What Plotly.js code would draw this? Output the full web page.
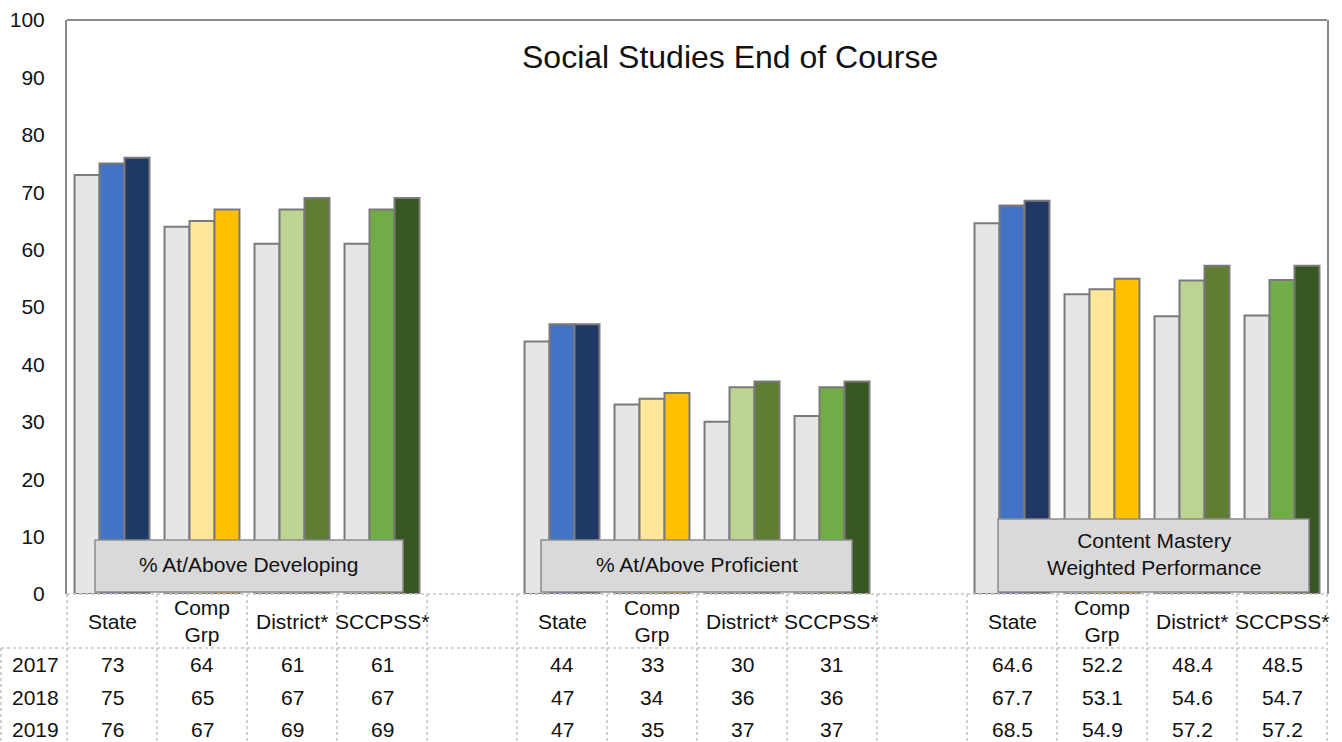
<!DOCTYPE html>
<html>
<head>
<meta charset="utf-8">
<script src="https://cdn.plot.ly/plotly-3.0.1.min.js"></script>
<style>
  html, body { margin: 0; padding: 0; background: #fff; }
  #chart { width: 1342px; height: 742px; }
</style>
</head>
<body>
<div id="chart"></div>
<script>
// ---------- data ----------
const chartTitle = "Social Studies End of Course";
const groupLabels = ["% At/Above Developing", "% At/Above Proficient", "Content Mastery<br>Weighted Performance"];
const entities = ["State", "Comp Grp", "District*", "SCCPSS*"];
const headerLabels = ["State", "Comp<br>Grp", "District*", "SCCPSS*"];
const years = ["2017", "2018", "2019"];
const values2017 = [73, 64, 61, 61, 44, 33, 30, 31, 64.6, 52.2, 48.4, 48.5];
const values2018 = [75, 65, 67, 67, 47, 34, 36, 36, 67.7, 53.1, 54.6, 54.7];
const values2019 = [76, 67, 69, 69, 47, 35, 37, 37, 68.5, 54.9, 57.2, 57.2];
const yTicks = [0, 10, 20, 30, 40, 50, 60, 70, 80, 90, 100];

// ---------- styles ----------
const FONT = "Liberation Sans, Arial, Helvetica, sans-serif";
const TXT = "#111111";
const colors2017 = ["#e7e6e6", "#e7e6e6", "#e7e6e6", "#e7e6e6"];
const colors2018 = ["#4472c4", "#ffe699", "#bcd392", "#70ad47"];
const colors2019 = ["#203864", "#ffc000", "#5f7d33", "#385723"];
const yearColors = [colors2017, colors2018, colors2019];
const yearValues = [values2017, values2018, values2019];

const slotsPerGroup = entities.length + 1;           // blank slot between groups
const nSlots = groupLabels.length * slotsPerGroup - 1;
const xRange = [-0.5, nSlots - 0.5];
const toPaperX = x => (x - xRange[0]) / (xRange[1] - xRange[0]);

const W = 1342, H = 742;
const margin = {l: 67, r: 15, t: 20, b: 148};
const plotH = H - margin.t - margin.b;
const plotW = W - margin.l - margin.r;
const pyToPaper = py => (H - margin.b - py) / plotH;   // pixel row -> paper y
const pxToPaper = px => (px - margin.l) / plotW;

const xPos = [];
groupLabels.forEach((g, gi) => entities.forEach((e, ei) => xPos.push(gi * slotsPerGroup + ei)));

const traces = years.map((yr, yi) => ({
  type: "bar",
  name: yr,
  x: xPos,
  y: yearValues[yi],
  marker: {
    color: xPos.map((_, i) => yearColors[yi][i % entities.length]),
    line: {color: "#7a7a7a", width: 2}
  },
  hoverinfo: "x+y+name"
}));

const shapes = [];
const annotations = [];
const gridLine = {color: "#c4c4c4", width: 1.5, dash: "dot"};
const ann = (o) => Object.assign({showarrow: false, xanchor: "center", yanchor: "middle",
  xref: "paper", yref: "paper"}, o);

// title
annotations.push(ann({
  text: chartTitle, x: pxToPaper(730), y: pyToPaper(57),
  font: {family: FONT, size: 32, color: TXT}
}));

// top frame line
shapes.push({type: "line", xref: "paper", yref: "paper", x0: 0, x1: 1, y0: 1, y1: 1,
  line: {color: "#8a8a8a", width: 2}, layer: "above"});

// group label boxes
const boxPx = [[95, 403, 540], [541, 852, 540], [998, 1309, 519]];
groupLabels.forEach((g, gi) => {
  const [x0, x1, top] = boxPx[gi];
  const yTop = (H - margin.b - top) / plotH * 100;
  const yBot = 0.35;
  shapes.push({type: "rect", xref: "paper", yref: "y",
    x0: pxToPaper(x0), x1: pxToPaper(x1), y0: yBot, y1: yTop,
    fillcolor: "#d9d9d9", line: {color: "#8c8c8c", width: 1.5}, layer: "above"});
  annotations.push(ann({text: g, yref: "y",
    x: pxToPaper((x0 + x1) / 2), y: (yTop + yBot) / 2 + 0.2,
    font: {family: FONT, size: 21, color: TXT}}));
});

// ---------- data table ----------
const tableTop = pyToPaper(594);
const headerBottom = pyToPaper(648);
const tableBottom = pyToPaper(742);
const rowY = [664, 697, 729].map(pyToPaper);
const headerY = pyToPaper(621);

shapes.push({type: "line", xref: "paper", yref: "paper", x0: 0, x1: 1, y0: tableTop, y1: tableTop, line: gridLine});
shapes.push({type: "line", xref: "paper", yref: "paper", x0: pxToPaper(1), x1: 1, y0: headerBottom, y1: headerBottom, line: gridLine});
for (let k = 0; k <= nSlots; k++) {
  const xp = toPaperX(k - 0.5);
  shapes.push({type: "line", xref: "paper", yref: "paper", x0: xp, x1: xp, y0: tableTop, y1: tableBottom, line: gridLine});
}
shapes.push({type: "line", xref: "paper", yref: "paper", x0: pxToPaper(1), x1: pxToPaper(1), y0: headerBottom, y1: tableBottom, line: gridLine});

xPos.forEach((x, i) => {
  annotations.push(ann({text: headerLabels[i % entities.length],
    x: toPaperX(x), y: headerY,
    font: {family: FONT, size: 21, color: TXT}}));
});
years.forEach((yr, yi) => {
  annotations.push(ann({text: yr, x: pxToPaper(35), y: rowY[yi],
    font: {family: FONT, size: 21, color: TXT}}));
  xPos.forEach((x, i) => {
    annotations.push(ann({text: String(yearValues[yi][i]),
      x: toPaperX(x), y: rowY[yi],
      font: {family: FONT, size: 21, color: TXT}}));
  });
});

const layout = {
  width: W, height: H,
  margin: margin,
  paper_bgcolor: "#ffffff",
  plot_bgcolor: "#ffffff",
  barmode: "group",
  bargap: 0.167,
  bargroupgap: 0,
  showlegend: false,
  font: {family: FONT, size: 21, color: TXT},
  xaxis: {
    range: xRange, showticklabels: false, showgrid: false, zeroline: false,
    showline: false, ticks: "", fixedrange: true
  },
  yaxis: {
    range: [0, 100], tickvals: yTicks, ticktext: yTicks.map(String),
    showgrid: false, zeroline: false, showline: true, mirror: true,
    linecolor: "#8a8a8a", linewidth: 2, ticks: "", ticklabelstandoff: 16,
    tickfont: {family: FONT, size: 21, color: TXT}, fixedrange: true
  },
  shapes: shapes,
  annotations: annotations
};

Plotly.newPlot("chart", traces, layout, {displayModeBar: false, staticPlot: true});
</script>
</body>
</html>
